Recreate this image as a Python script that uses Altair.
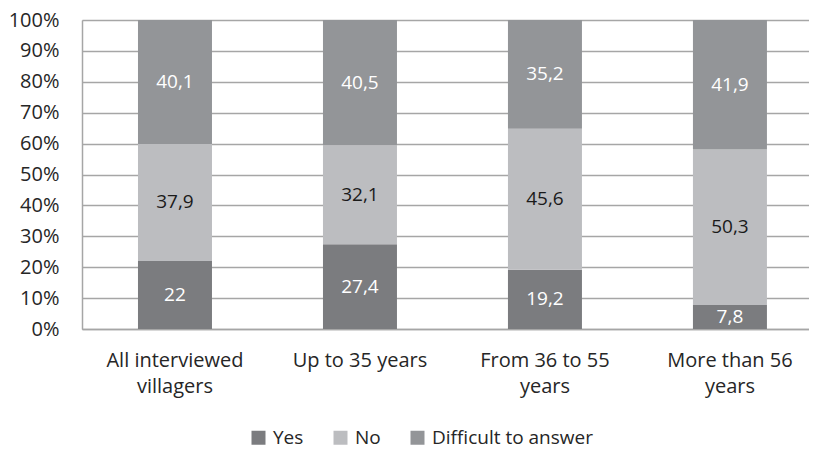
import altair as alt
import pandas as pd
import json

categories = ["All interviewed villagers", "Up to 35 years", "From 36 to 55 years", "More than 56 years"]
category_lines = [["All interviewed", "villagers"], ["Up to 35 years"], ["From 36 to 55", "years"], ["More than 56", "years"]]
series = ["Yes", "No", "Difficult to answer"]
yes_vals = [22, 27.4, 19.2, 7.8]
no_vals = [37.9, 32.1, 45.6, 50.3]
diff_vals = [40.1, 40.5, 35.2, 41.9]
colors = ["#7b7c7f", "#bcbdc0", "#939598"]
label_colors = ["#ffffff", "#1a1a1a", "#ffffff"]

rows = []
for i, c in enumerate(categories):
    for s_idx, (s, vals) in enumerate(zip(series, [yes_vals, no_vals, diff_vals])):
        rows.append({"cat": c, "series": s, "value": vals[i], "order": s_idx,
                     "lc": label_colors[s_idx]})
df = pd.DataFrame(rows)

label_map = json.dumps(dict(zip(categories, category_lines)))
FONT = "Open Sans"

base = alt.Chart(df).transform_stack(
    stack="value", groupby=["cat"], as_=["y0", "y1"], offset="normalize",
    sort=[alt.SortField("order", order="ascending")]
).transform_calculate(
    mid="(datum.y0 + datum.y1) / 2",
    txt="replace(toString(datum.value), '.', ',')"
)

x_axis = alt.Axis(labelExpr=f"{label_map}[datum.label]", labelAngle=0,
                  labelFont=FONT, labelFontSize=20, labelColor="#262626",
                  labelLineHeight=26, labelBaseline="top", labelPadding=21,
                  ticks=False, domainColor="#a6a6a6", domainWidth=1.5,
                  grid=False, labelOverlap=False)
x_scale = alt.Scale(paddingInner=0.6, paddingOuter=0.265, align=0.571)
y_axis = alt.Axis(values=[i / 10 for i in range(11)], format=".0%",
                  labelFont=FONT, labelFontSize=20, labelColor="#262626",
                  labelPadding=23, ticks=False, domainColor="#a6a6a6",
                  labelOverlap=False, labelFlush=False,
                  domainWidth=1.5, gridColor="#a6a6a6", gridWidth=1.5)
y_scale = alt.Scale(domain=[0, 1], nice=False)

bars = base.mark_bar().encode(
    x=alt.X("cat:N", sort=categories, title=None, scale=x_scale, axis=x_axis),
    y=alt.Y("y0:Q", scale=y_scale, title=None, axis=y_axis),
    y2="y1:Q",
    color=alt.Color("series:N", sort=series,
                    scale=alt.Scale(domain=series, range=colors),
                    legend=alt.Legend(title=None, orient="none", direction="horizontal",
                                      legendX=167, legendY=408,
                                      symbolType="square", symbolSize=196,
                                      symbolStrokeWidth=0, symbolOpacity=1,
                                      labelFont=FONT, labelFontSize=19,
                                      labelColor="#262626", labelOffset=5,
                                      labelLimit=300, columnPadding=27)),
)

labels = base.mark_text(font=FONT, fontSize=19).encode(
    x=alt.X("cat:N", sort=categories, title=None, scale=x_scale, axis=x_axis),
    y=alt.Y("mid:Q", scale=y_scale, title=None, axis=y_axis),
    text="txt:N",
    color=alt.Color("lc:N", scale=None),
)

chart = alt.layer(bars, labels).properties(
    width=727, height=309,
    padding={"left": 0, "top": 2, "right": 0, "bottom": 3}
).configure_view(stroke=None).configure(background="white")

chart.save("out.html", embed_options={"renderer": "svg", "actions": False})
